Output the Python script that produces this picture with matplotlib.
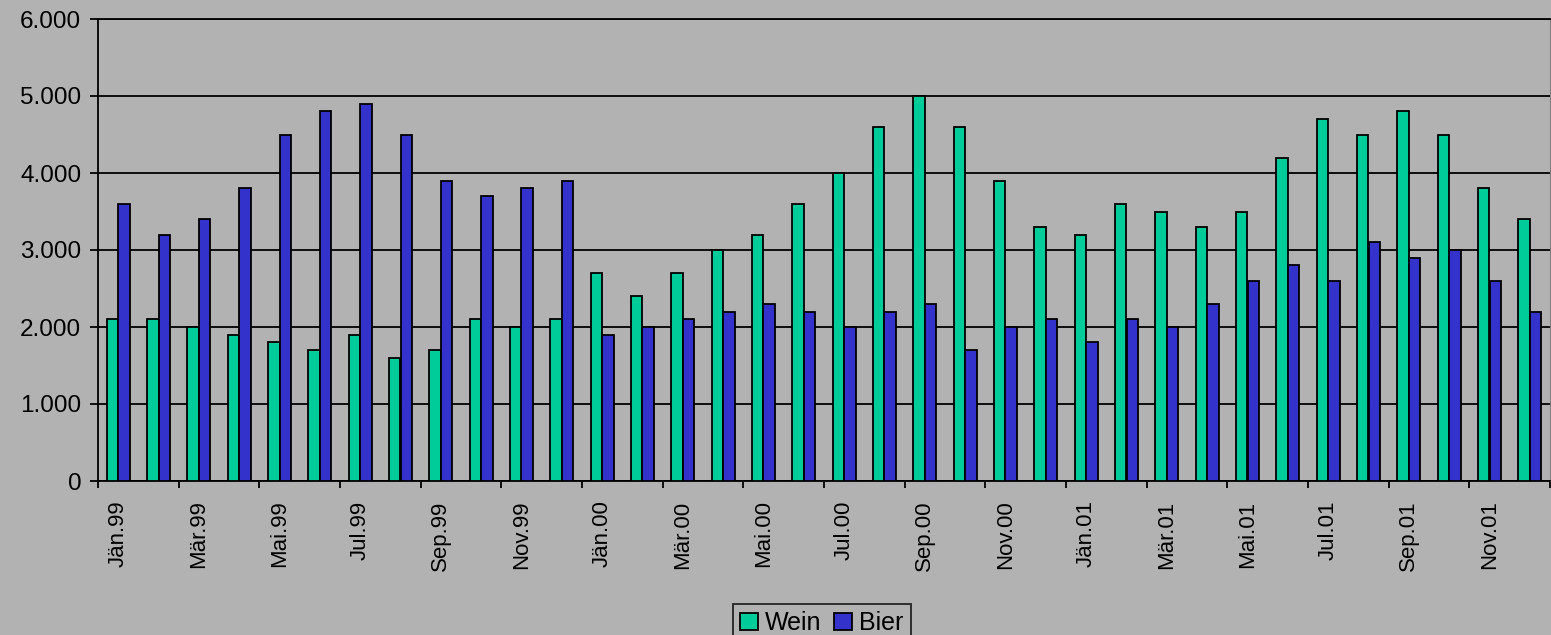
import numpy as np
import matplotlib.pyplot as plt
from matplotlib.ticker import FuncFormatter

plt.rcParams['font.family'] = ['Liberation Sans', 'DejaVu Sans']

months = ["Jän", "Feb", "Mär", "Apr", "Mai", "Jun",
          "Jul", "Aug", "Sep", "Okt", "Nov", "Dez"]
years = ["99", "00", "01"]
labels = [m + "." + y for y in years for m in months]

wein = [2100, 2100, 2000, 1900, 1800, 1700, 1900, 1600, 1700, 2100, 2000, 2100,
        2700, 2400, 2700, 3000, 3200, 3600, 4000, 4600, 5000, 4600, 3900, 3300,
        3200, 3600, 3500, 3300, 3500, 4200, 4700, 4500, 4800, 4500, 3800, 3400]
bier = [3600, 3200, 3400, 3800, 4500, 4800, 4900, 4500, 3900, 3700, 3800, 3900,
        1900, 2000, 2100, 2200, 2300, 2200, 2000, 2200, 2300, 1700, 2000, 2100,
        1800, 2100, 2000, 2300, 2600, 2800, 2600, 3100, 2900, 3000, 2600, 2200]

GRAY = "#b2b2b2"
GREEN = "#00cc99"
BLUE = "#3333cc"

fig = plt.figure(figsize=(15.51, 6.35), dpi=100, facecolor=GRAY)
ax = fig.add_axes([98/1551, 1-481/635, 1452/1551, (481-19)/635])
ax.set_facecolor(GRAY)

x = np.arange(len(labels))
w = 1/3.5
ax.bar(x - w/2, wein, w, color=GREEN, edgecolor="black", linewidth=1.3, label="Wein", zorder=3)
ax.bar(x + w/2, bier, w, color=BLUE, edgecolor="black", linewidth=1.3, label="Bier", zorder=3)

ax.set_xlim(-0.5, len(labels) - 0.5)
ax.set_ylim(0, 6000)
ax.set_yticks(range(0, 6001, 1000))
ax.yaxis.set_major_formatter(FuncFormatter(lambda v, p: f"{int(v):,}".replace(",", ".")))
ax.yaxis.grid(True, color="black", linewidth=1.3, zorder=0)
ax.tick_params(axis="y", labelsize=17.5, length=6, width=1.3, direction="out", pad=6)

# ticks at every second group boundary, labels under every second month
ax.set_xticks(np.arange(-0.5, len(labels), 2))
ax.set_xticklabels([])
ax.tick_params(axis="x", which="major", length=5, width=1.3, direction="out")
ax.set_xticks(x[::2], minor=True)
ax.set_xticklabels(labels[::2], minor=True, rotation=90, fontsize=16)
ax.tick_params(axis="x", which="minor", length=0, pad=14)

for s in ["left", "bottom", "top"]:
    ax.spines[s].set_color("black")
    ax.spines[s].set_linewidth(1.3)
ax.spines["right"].set_color("#808080")

leg = fig.legend(loc="upper center", bbox_to_anchor=(822/1551, 1-591/635), ncol=2,
                 fontsize=18, frameon=True, fancybox=False, edgecolor="black",
                 facecolor=GRAY, handlelength=0.7, handleheight=0.7,
                 handletextpad=0.3, columnspacing=0.5, borderpad=0.3)
leg.get_frame().set_linewidth(1.3)

fig.savefig("out.png", dpi=100, facecolor=GRAY)
